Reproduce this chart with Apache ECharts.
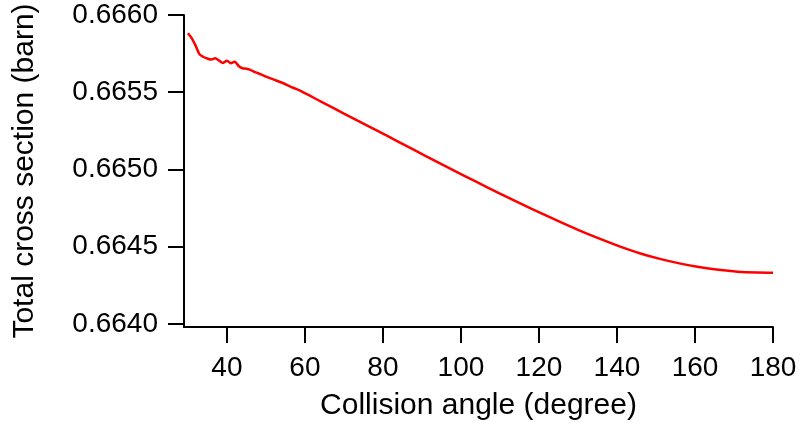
<!DOCTYPE html>
<html>
<head>
<meta charset="utf-8">
<script src="https://cdn.jsdelivr.net/npm/echarts@6/dist/echarts.min.js"></script>
<style>html,body{margin:0;padding:0;background:#fff;}#c{width:802px;height:430px;}</style>
</head>
<body>
<div id="c"></div>
<script>
var angles = [30,31,32,33,34,35,36,37,38,39,40,41,42,43,44,45,46,47,48,49,50,52,54,57,59,64,70,78,84,91,97,104,110,118,125,130,136,141,146,151,156,161,166,171,176,180];
var crossSection = [0.665882,0.665849,0.665800,0.665745,0.665728,0.665718,0.665712,0.665720,0.665705,0.665690,0.665704,0.665688,0.665698,0.665670,0.665655,0.665652,0.665645,0.665632,0.665623,0.665612,0.665601,0.665582,0.665563,0.665529,0.665507,0.665441,0.665362,0.665258,0.665179,0.665087,0.665008,0.664919,0.664844,0.664747,0.664665,0.664609,0.664547,0.664499,0.664456,0.664421,0.664392,0.664368,0.664350,0.664338,0.664333,0.664332];
var xTicks = [40,60,80,100,120,140,160,180];
var yTicks = [0.6640,0.6645,0.6650,0.6655,0.6660];

var data = angles.map(function(a, i){ return [a, crossSection[i]]; });
var font = '"Liberation Sans", Arial, Helvetica, sans-serif';
var chart = echarts.init(document.getElementById('c'), null, {renderer: 'canvas'});
chart.setOption({
  animation: false,
  backgroundColor: '#fff',
  grid: {left: 184, right: 29, top: 15, bottom: 103, containLabel: false, outerBoundsMode: 'none'},
  xAxis: {
    type: 'value', min: 29, max: 180,
    name: 'Collision angle (degree)', nameLocation: 'middle', nameGap: 64,
    nameTextStyle: {fontSize: 30, color: '#000', fontFamily: font},
    axisLine: {show: true, onZero: false, lineStyle: {color: '#000', width: 2}},
    axisTick: {show: true, inside: false, length: 16, lineStyle: {color: '#000', width: 2}, customValues: xTicks},
    axisLabel: {fontSize: 28, color: '#000', fontFamily: font, margin: 27, customValues: xTicks},
    splitLine: {show: false}
  },
  yAxis: {
    type: 'value', min: 0.66398, max: 0.666,
    name: 'Total cross section (barn)', nameLocation: 'middle', nameGap: 144,
    nameTextStyle: {fontSize: 30, color: '#000', fontFamily: font},
    axisLine: {show: true, onZero: false, lineStyle: {color: '#000', width: 2}},
    axisTick: {show: true, inside: false, length: 16, lineStyle: {color: '#000', width: 2}, customValues: yTicks},
    axisLabel: {fontSize: 28, color: '#000', fontFamily: font, margin: 26, customValues: yTicks,
      formatter: function(v){ return v.toFixed(4); }},
    splitLine: {show: false}
  },
  series: [{
    type: 'line', data: data, showSymbol: false, symbol: 'none',
    lineStyle: {color: '#ff0000', width: 2.5}, smooth: 0.3
  }]
});
</script>
</body>
</html>
